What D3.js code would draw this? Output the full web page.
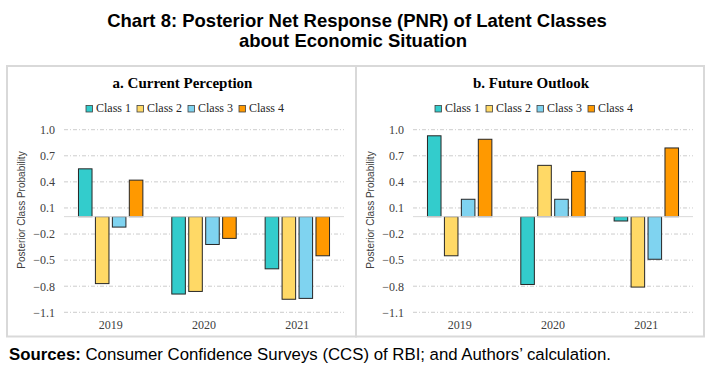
<!DOCTYPE html>
<html>
<head>
<meta charset="utf-8">
<script src="https://cdn.jsdelivr.net/npm/d3@7"></script>
<style>
  body { margin: 0; background: #fff; }
  svg { display: block; }
</style>
</head>
<body>
<div id="chart"></div>
<script>
// Chart 8: Posterior Net Response (PNR) of latent classes
var svgWidth = 713;
var svgHeight = 374;

// data
var years = ["2019", "2020", "2021"];
var classes = ["Class 1", "Class 2", "Class 3", "Class 4"];
var classColors = ["#33CCCC", "#FFD966", "#7FD3F0", "#FF9900"];
var yTicks = [1.0, 0.7, 0.4, 0.1, -0.2, -0.5, -0.8, -1.1];
// one row per year, one value per class
var currentPerception = [
  [0.55, -0.77, -0.12, 0.42],
  [-0.89, -0.86, -0.32, -0.25],
  [-0.60, -0.95, -0.94, -0.45]
];
var futureOutlook = [
  [0.93, -0.45, 0.20, 0.89],
  [-0.78, 0.59, 0.20, 0.52],
  [-0.05, -0.81, -0.49, 0.79]
];

var serif = "'Liberation Serif', 'DejaVu Serif', serif";
var sans = "'Liberation Sans', Arial, sans-serif";

var svg = d3.select("#chart")
  .append("svg")
  .attr("width", svgWidth)
  .attr("height", svgHeight);

svg.append("rect")
  .attr("width", svgWidth)
  .attr("height", svgHeight)
  .attr("fill", "#fff");

// main title
var title = svg.append("text")
  .attr("text-anchor", "middle")
  .attr("font-family", sans)
  .attr("font-weight", "bold")
  .attr("font-size", 18.5)
  .attr("fill", "#000");
title.append("tspan").attr("x", 357).attr("y", 27)
  .text("Chart 8: Posterior Net Response (PNR) of Latent Classes");
title.append("tspan").attr("x", 353).attr("y", 47)
  .text("about Economic Situation");

// shared y scale
var y = d3.scaleLinear()
  .domain([-1.1, 1.0])
  .range([312.3, 129.7]);

function drawPanel(px, pw, panelTitle, values) {
  var g = svg.append("g").attr("transform", `translate(${px}, 0)`);

  g.append("rect")
    .attr("x", 0).attr("y", 66)
    .attr("width", pw).attr("height", 270.5)
    .attr("fill", "#fff")
    .attr("stroke", "#d9d9d9")
    .attr("stroke-width", 2);

  g.append("text")
    .attr("x", pw / 2 + 1)
    .attr("y", 88)
    .attr("text-anchor", "middle")
    .attr("font-family", serif)
    .attr("font-weight", "bold")
    .attr("font-size", 15)
    .attr("fill", "#000")
    .text(panelTitle);

  // legend
  var legend = g.selectAll(".legend")
    .data(classes)
    .enter()
    .append("g")
    .attr("transform", (d, i) => `translate(${79 + i * 51}, 0)`);
  legend.append("rect")
    .attr("x", 0).attr("y", 105.5)
    .attr("width", 6.5).attr("height", 6.5)
    .attr("fill", (d, i) => classColors[i])
    .attr("stroke", "#404040")
    .attr("stroke-width", 0.8);
  legend.append("text")
    .attr("x", 10).attr("y", 112)
    .attr("font-family", serif)
    .attr("font-size", 12)
    .attr("fill", "#262626")
    .text(d => d);

  var plotLeft = 57;
  var plotWidth = 280;

  var x0 = d3.scaleBand()
    .domain(years)
    .range([plotLeft, plotLeft + plotWidth])
    .paddingInner(0.31)
    .paddingOuter(0.155);
  var x1 = d3.scaleBand()
    .domain(classes)
    .range([0, x0.bandwidth()])
    .paddingInner(0.2);

  // gridlines
  g.append("g")
    .selectAll("line")
    .data(yTicks)
    .enter()
    .append("line")
    .attr("x1", plotLeft).attr("x2", plotLeft + plotWidth)
    .attr("y1", d => y(d)).attr("y2", d => y(d))
    .attr("stroke", "#bfbfbf")
    .attr("stroke-width", 0.8)
    .attr("stroke-dasharray", "4,2,1,2");

  // y axis labels
  var yAxis = g.append("g")
    .attr("transform", `translate(${plotLeft}, 0)`)
    .call(d3.axisLeft(y).tickValues(yTicks).tickFormat(d3.format(".1f")).tickSize(0).tickPadding(9));
  yAxis.select(".domain").remove();
  yAxis.selectAll("text")
    .attr("font-family", serif)
    .attr("font-size", 12)
    .attr("fill", "#404040");

  // x axis labels
  var xAxis = g.append("g")
    .attr("transform", "translate(0, 318)")
    .call(d3.axisBottom(x0).tickSize(0).tickPadding(0));
  xAxis.select(".domain").remove();
  xAxis.selectAll("text")
    .attr("dy", "0.9em")
    .attr("font-family", serif)
    .attr("font-size", 12)
    .attr("fill", "#404040");

  // y axis title
  g.append("text")
    .attr("transform", "translate(18, 210) rotate(-90)")
    .attr("text-anchor", "middle")
    .attr("font-family", sans)
    .attr("font-size", 10)
    .attr("fill", "#404040")
    .text("Posterior Class Probability");

  // bars
  var groups = g.append("g")
    .selectAll("g")
    .data(values)
    .enter()
    .append("g")
    .attr("transform", (d, i) => `translate(${x0(years[i])}, 0)`);
  groups.selectAll("rect")
    .data(d => d)
    .enter()
    .append("rect")
    .attr("x", (d, i) => x1(classes[i]))
    .attr("width", x1.bandwidth())
    .attr("y", d => y(Math.max(0, d)))
    .attr("height", d => Math.abs(y(d) - y(0)))
    .attr("fill", (d, i) => classColors[i])
    .attr("stroke", "#262626")
    .attr("stroke-width", 1);

  // zero line
  g.append("line")
    .attr("x1", plotLeft).attr("x2", plotLeft + plotWidth)
    .attr("y1", y(0)).attr("y2", y(0))
    .attr("stroke", "#d9d9d9")
    .attr("stroke-width", 1);
}

drawPanel(7, 349, "a. Current Perception", currentPerception);
drawPanel(356, 348, "b. Future Outlook", futureOutlook);

// source note
var src = svg.append("text")
  .attr("x", 9)
  .attr("y", 360)
  .attr("font-family", sans)
  .attr("font-size", 16.8)
  .attr("fill", "#000");
src.append("tspan").attr("font-weight", "bold").text("Sources:");
src.append("tspan").text(" Consumer Confidence Surveys (CCS) of RBI; and Authors\u2019 calculation.");
</script>
</body>
</html>
